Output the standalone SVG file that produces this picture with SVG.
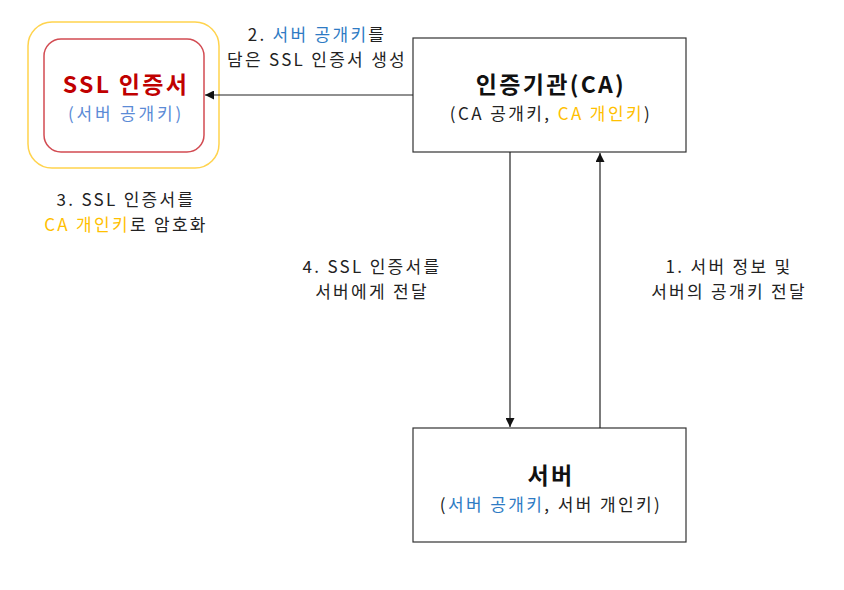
<svg xmlns="http://www.w3.org/2000/svg" width="844" height="590" viewBox="0 0 844 590">
<style>
text{font-family:"Noto Sans CJK KR","Noto Sans",sans-serif;text-anchor:middle;fill:#222}
.lbl{font-size:17px;letter-spacing:2.3px}
.title{font-size:23px;font-weight:bold;fill:#111;letter-spacing:2.3px}
.sub{font-size:17px;letter-spacing:2.4px}
.box{fill:#fff;stroke:#333;stroke-width:1.2}
.blue{fill:#2E7BC4}
.yel{fill:#FFC000}
.edge{stroke:#222;stroke-width:1.2;fill:none}
</style>
<defs>
<marker id="ah" viewBox="0 0 10 10" refX="10" refY="5" markerWidth="9" markerHeight="9" markerUnits="userSpaceOnUse" orient="auto">
<path d="M0,0 L10,5 L0,10 z" fill="#111"/>
</marker>
</defs>
<rect width="844" height="590" fill="#fff"/>
<g id="ssl">
<rect x="28" y="22" width="191" height="146" rx="24" fill="#fff" stroke="#FFD34D" stroke-width="1.5"/>
<rect x="44" y="39" width="160" height="113" rx="17" fill="#fff" stroke="#D24B52" stroke-width="1.5"/>
<text x="126" y="93" style="font-size:23px;font-weight:bold;fill:#C00000;letter-spacing:2.3px">SSL 인증서</text>
<text x="126" y="120" style="font-size:17px;fill:#5B8BD6;letter-spacing:2.8px">(서버 공개키)</text>
</g>
<g id="ca">
<rect class="box" x="413" y="38" width="273" height="114"/>
<text class="title" x="551" y="93">인증기관(CA)</text>
<text class="sub" x="551" y="120">(CA 공개키, <tspan class="yel">CA 개인키</tspan>)</text>
</g>
<g id="server">
<rect class="box" x="413" y="428" width="273" height="114"/>
<text class="title" x="551" y="484">서버</text>
<text class="sub" x="551" y="511">(<tspan class="blue">서버 공개키</tspan>, 서버 개인키)</text>
</g>
<g id="connectors">
<line class="edge" x1="413" y1="95" x2="205" y2="95" marker-end="url(#ah)"/>
<line class="edge" x1="510" y1="152" x2="510" y2="427" marker-end="url(#ah)"/>
<line class="edge" x1="600" y1="428" x2="600" y2="153" marker-end="url(#ah)"/>
</g>
<g id="labels">
<text class="lbl" x="317" y="41">2. <tspan class="blue">서버 공개키</tspan>를</text>
<text class="lbl" x="317" y="66">담은 SSL 인증서 생성</text>
<text class="lbl" x="126" y="206">3. SSL 인증서를</text>
<text class="lbl" x="126" y="231"><tspan class="yel">CA 개인키</tspan>로 암호화</text>
<text class="lbl" x="372" y="273">4. SSL 인증서를</text>
<text class="lbl" x="372" y="298">서버에게 전달</text>
<text class="lbl" x="729" y="273">1. 서버 정보 및</text>
<text class="lbl" x="729" y="298">서버의 공개키 전달</text>
</g>
</svg>
